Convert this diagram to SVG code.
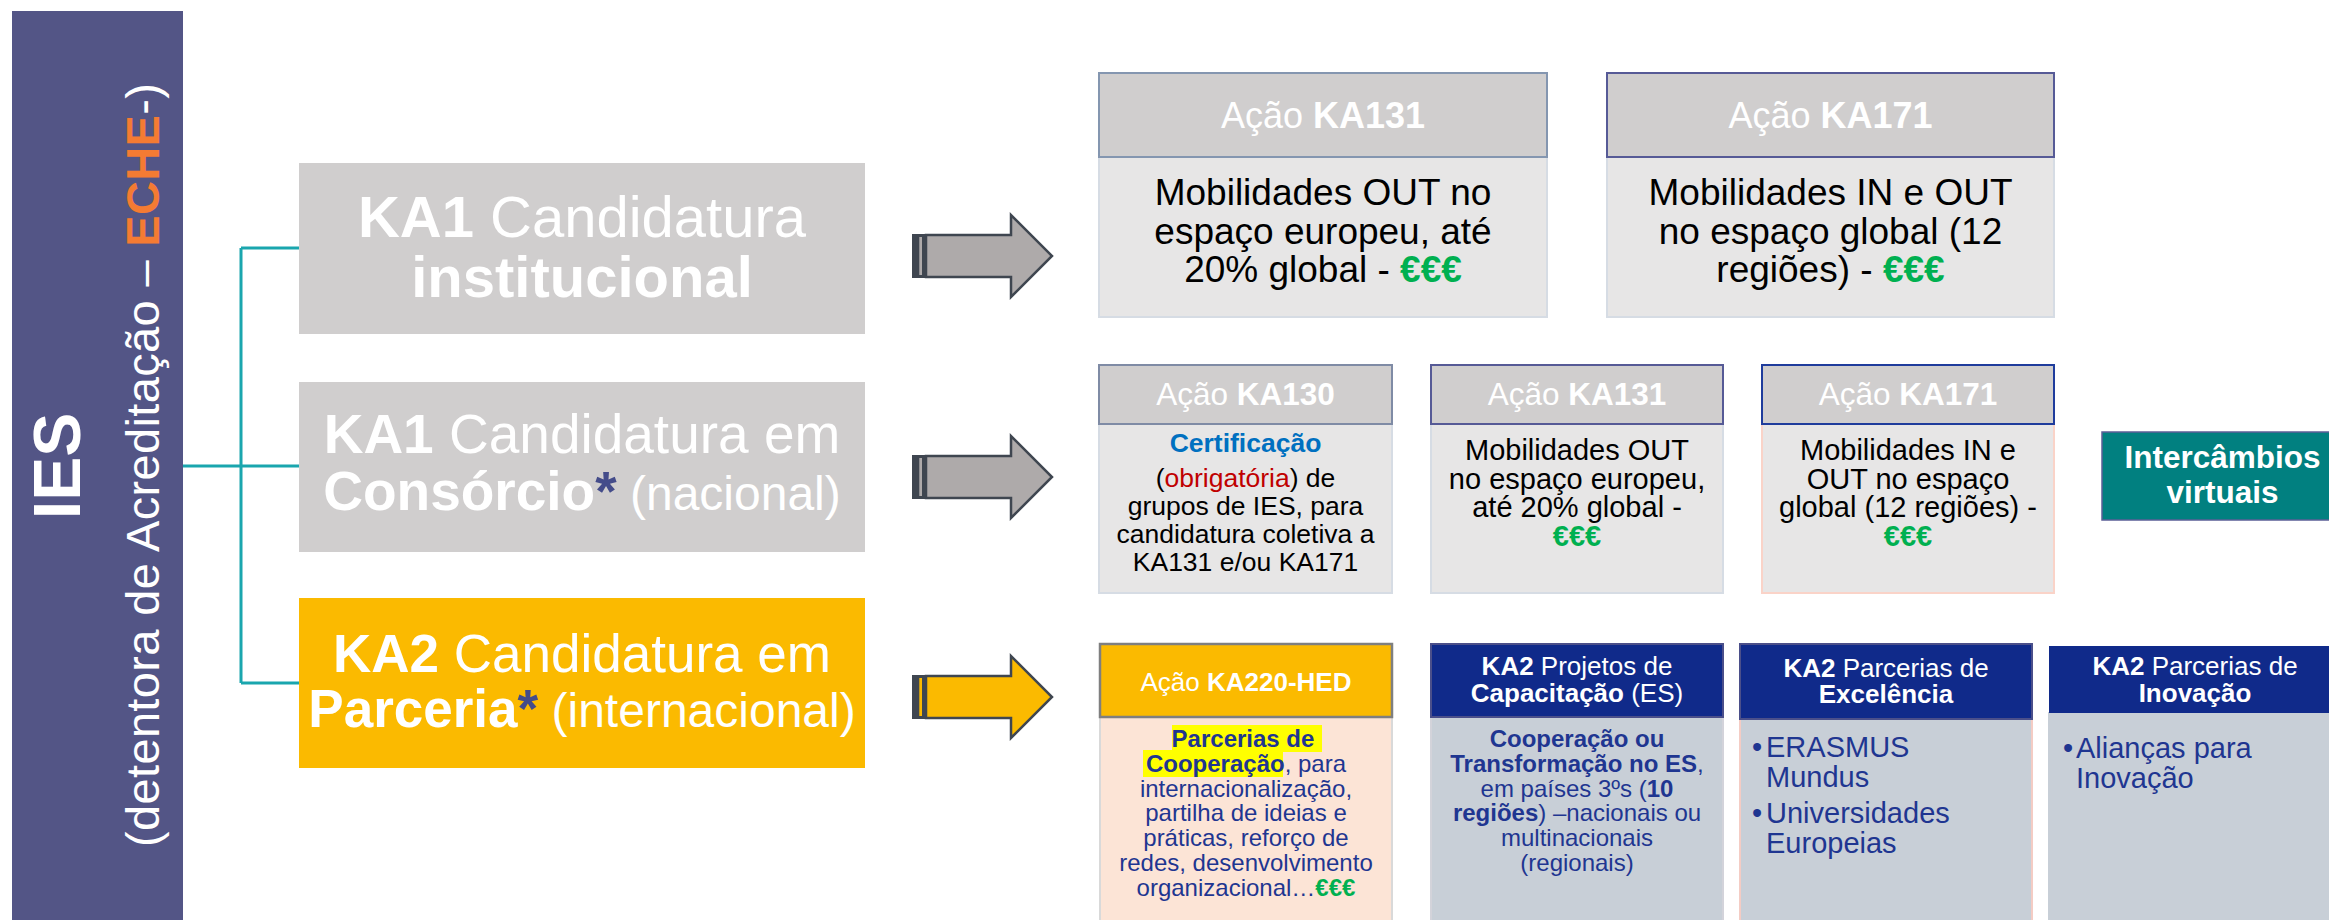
<svg xmlns="http://www.w3.org/2000/svg" width="2329" height="920" viewBox="0 0 2329 920">
<style>
text{font-family:"Liberation Sans",Arial,Helvetica,sans-serif}
.b{font-weight:bold}
.w{fill:#ffffff}
.k{fill:#000000}
.g{fill:#00B050;font-weight:bold}
.ast{fill:#444C8A;font-weight:bold}
.hdr{fill:#D0CECE;stroke-width:2}
.bg{fill:#E7E6E6;stroke:#D6DCE4;stroke-width:2}
.nv{fill:#102A8A;stroke:#4B4F8A;stroke-width:2}
.bb{fill:#C8CFD7;stroke-width:2}
.tn{fill:#1F3691}
.conn{stroke:#1AA6AE;stroke-width:3;fill:none}
.arr{stroke:#3F4650;stroke-width:2.5;stroke-linejoin:miter}
.band{fill:#3F4650}
</style>
<rect width="2329" height="920" fill="#ffffff"/>

<g id="ies">
<rect x="12" y="11" width="171" height="909" fill="#535586"/>
<text transform="translate(80,466) rotate(-90)" text-anchor="middle" font-size="66" class="b w">IES</text>
<text transform="translate(159,465) rotate(-90)" text-anchor="middle" font-size="47" class="w" textLength="764" lengthAdjust="spacing">(detentora de Acreditação – <tspan class="b" fill="#F47B33">ECHE</tspan>-)</text>
</g>

<g id="connectors">
<path class="conn" d="M241,248 V683 M241,248 H299 M183,466 H299 M241,683 H299"/>
<g id="arrow1">
<polygon class="arr" fill="#AEAAAA" points="926,235 1011,235 1011,215 1052,256 1011,297 1011,277 926,277"/>
<rect class="band" x="912" y="234" width="14" height="44"/>
<rect x="919.3" y="237" width="2.7" height="38" fill="#AEAAAA"/>
</g>
<g id="arrow2">
<polygon class="arr" fill="#AEAAAA" points="926,456 1011,456 1011,436 1052,477 1011,518 1011,498 926,498"/>
<rect class="band" x="912" y="455" width="14" height="44"/>
<rect x="919.3" y="458" width="2.7" height="38" fill="#AEAAAA"/>
</g>
<g id="arrow3">
<polygon class="arr" fill="#FBBA00" points="926,676 1011,676 1011,656 1052,697 1011,738 1011,718 926,718"/>
<rect class="band" x="912" y="675" width="14" height="44"/>
<rect x="919.3" y="678" width="2.7" height="38" fill="#FBBA00"/>
</g>
</g>

<g id="ka1-institucional">
<rect x="299" y="163" width="566" height="171" fill="#D0CECE"/>
<text x="582" y="237" text-anchor="middle" font-size="58" class="w"><tspan class="b">KA1</tspan> Candidatura</text>
<text x="582" y="297" text-anchor="middle" font-size="58" class="w b">institucional</text>
</g>

<g id="ka1-consorcio">
<rect x="299" y="382" width="566" height="170" fill="#D0CECE"/>
<text x="582" y="453" text-anchor="middle" font-size="55" class="w"><tspan class="b">KA1</tspan> Candidatura em</text>
<text x="582" y="510" text-anchor="middle" font-size="55" class="w"><tspan class="b">Consórcio</tspan><tspan class="ast">*</tspan><tspan font-size="48"> (nacional)</tspan></text>
</g>

<g id="ka2-parceria">
<rect x="299" y="598" width="566" height="170" fill="#FBBA00"/>
<text x="582" y="672" text-anchor="middle" font-size="53" class="w"><tspan class="b">KA2</tspan> Candidatura em</text>
<text x="582" y="727" text-anchor="middle" font-size="53" class="w"><tspan class="b">Parceria</tspan><tspan class="ast">*</tspan><tspan font-size="48"> (internacional)</tspan></text>
</g>

<g id="top-ka131">
<rect class="bg" x="1099" y="157" width="448" height="160"/>
<rect class="hdr" x="1099" y="73" width="448" height="84" stroke="#8496B0"/>
<text x="1323" y="128" text-anchor="middle" font-size="36" class="w">Ação <tspan class="b">KA131</tspan></text>
<text x="1323" y="205" text-anchor="middle" font-size="37" class="k">Mobilidades OUT no</text>
<text x="1323" y="243.5" text-anchor="middle" font-size="37" class="k">espaço europeu, até</text>
<text x="1323" y="282" text-anchor="middle" font-size="37" class="k">20% global - <tspan class="g">€€€</tspan></text>
</g>

<g id="top-ka171">
<rect class="bg" x="1607" y="157" width="447" height="160"/>
<rect class="hdr" x="1607" y="73" width="447" height="84" stroke="#565A96"/>
<text x="1830.5" y="128" text-anchor="middle" font-size="36" class="w">Ação <tspan class="b">KA171</tspan></text>
<text x="1830.5" y="205" text-anchor="middle" font-size="37" class="k">Mobilidades IN e OUT</text>
<text x="1830.5" y="243.5" text-anchor="middle" font-size="37" class="k">no espaço global (12</text>
<text x="1830.5" y="282" text-anchor="middle" font-size="37" class="k">regiões) - <tspan class="g">€€€</tspan></text>
</g>

<g id="mid-ka130">
<rect class="bg" x="1099" y="424" width="293" height="169"/>
<rect class="hdr" x="1099" y="365" width="293" height="59" stroke="#7F8BA5"/>
<text x="1245.5" y="405" text-anchor="middle" font-size="31.5" class="w">Ação <tspan class="b">KA130</tspan></text>
<text x="1245.5" y="452" text-anchor="middle" font-size="26.5" class="b" fill="#0070C0">Certificação</text>
<text x="1245.5" y="486.5" text-anchor="middle" font-size="26.5" class="k">(<tspan fill="#C00000">obrigatória</tspan>) de</text>
<text x="1245.5" y="515" text-anchor="middle" font-size="26.5" class="k">grupos de IES, para</text>
<text x="1245.5" y="543" text-anchor="middle" font-size="26.5" class="k">candidatura coletiva a</text>
<text x="1245.5" y="571" text-anchor="middle" font-size="26.5" class="k">KA131 e/ou KA171</text>
</g>

<g id="mid-ka131">
<rect class="bg" x="1431" y="424" width="292" height="169" stroke="#D9DCE8"/>
<rect class="hdr" x="1431" y="365" width="292" height="59" stroke="#565A96"/>
<text x="1577" y="405" text-anchor="middle" font-size="31.5" class="w">Ação <tspan class="b">KA131</tspan></text>
<text x="1577" y="460" text-anchor="middle" font-size="29" class="k">Mobilidades OUT</text>
<text x="1577" y="488.5" text-anchor="middle" font-size="29" class="k">no espaço europeu,</text>
<text x="1577" y="517" text-anchor="middle" font-size="29" class="k">até 20% global -</text>
<text x="1577" y="545.5" text-anchor="middle" font-size="29" class="g">€€€</text>
</g>

<g id="mid-ka171">
<rect x="1762" y="424" width="292" height="169" fill="#E7E6E6" stroke="#FAD3C8" stroke-width="2"/>
<rect class="hdr" x="1762" y="365" width="292" height="59" stroke="#1F3C9C"/>
<text x="1908" y="405" text-anchor="middle" font-size="31.5" class="w">Ação <tspan class="b">KA171</tspan></text>
<text x="1908" y="460" text-anchor="middle" font-size="29" class="k">Mobilidades IN e</text>
<text x="1908" y="488.5" text-anchor="middle" font-size="29" class="k">OUT no espaço</text>
<text x="1908" y="517" text-anchor="middle" font-size="29" class="k">global (12 regiões) -</text>
<text x="1908" y="545.5" text-anchor="middle" font-size="29" class="g">€€€</text>
</g>

<g id="intercambios">
<rect x="2102" y="432" width="250" height="88" fill="#018080" stroke="#5B5F97" stroke-width="1.5"/>
<text x="2222.5" y="468" text-anchor="middle" font-size="31.5" class="w b">Intercâmbios</text>
<text x="2222.5" y="503" text-anchor="middle" font-size="31.5" class="w b">virtuais</text>
</g>

<g id="bot-ka220">
<rect x="1100" y="717" width="292" height="210" fill="#FCE4D6" stroke="#D9D9D9" stroke-width="2"/>
<rect x="1100" y="644" width="292" height="73" fill="#FBBA00" stroke="#7F7F7F" stroke-width="2.5"/>
<text x="1246" y="691" text-anchor="middle" font-size="26" class="w">Ação <tspan class="b">KA220-HED</tspan></text>
<rect x="1172" y="725" width="150" height="27" fill="#FFFF00"/>
<rect x="1143" y="750" width="140" height="27" fill="#FFFF00"/>
<text x="1243" y="747" text-anchor="middle" font-size="24" class="tn b">Parcerias de</text>
<text x="1246" y="772" text-anchor="middle" font-size="24" class="tn"><tspan class="b">Cooperação</tspan>, para</text>
<text x="1246" y="797" text-anchor="middle" font-size="24" class="tn">internacionalização,</text>
<text x="1246" y="821" text-anchor="middle" font-size="24" class="tn">partilha de ideias e</text>
<text x="1246" y="846" text-anchor="middle" font-size="24" class="tn">práticas, reforço de</text>
<text x="1246" y="871" text-anchor="middle" font-size="24" class="tn">redes, desenvolvimento</text>
<text x="1246" y="896" text-anchor="middle" font-size="24" class="tn">organizacional…<tspan class="g">€€€</tspan></text>
</g>

<g id="bot-capacitacao">
<rect class="bb" x="1431" y="717" width="292" height="210" stroke="#D3D3DA"/>
<rect class="nv" x="1431" y="644" width="292" height="73"/>
<text x="1577" y="675" text-anchor="middle" font-size="26" class="w"><tspan class="b">KA2</tspan> Projetos de</text>
<text x="1577" y="702" text-anchor="middle" font-size="26" class="w"><tspan class="b">Capacitação</tspan> (ES)</text>
<text x="1577" y="747" text-anchor="middle" font-size="24" class="tn b">Cooperação ou</text>
<text x="1577" y="772" text-anchor="middle" font-size="24" class="tn"><tspan class="b">Transformação no ES</tspan>,</text>
<text x="1577" y="797" text-anchor="middle" font-size="24" class="tn">em países 3ºs (<tspan class="b">10</tspan></text>
<text x="1577" y="821" text-anchor="middle" font-size="24" class="tn"><tspan class="b">regiões</tspan>) –nacionais ou</text>
<text x="1577" y="846" text-anchor="middle" font-size="24" class="tn">multinacionais</text>
<text x="1577" y="871" text-anchor="middle" font-size="24" class="tn">(regionais)</text>
</g>

<g id="bot-excelencia">
<rect class="bb" x="1740" y="719" width="292" height="210" stroke="#F4CCC4"/>
<rect class="nv" x="1740" y="644" width="292" height="75"/>
<text x="1886" y="677" text-anchor="middle" font-size="26" class="w"><tspan class="b">KA2</tspan> Parcerias de</text>
<text x="1886" y="703" text-anchor="middle" font-size="26" class="w b">Excelência</text>
<text x="1752" y="757" font-size="29" class="tn">•</text>
<text x="1766" y="757" font-size="29" class="tn">ERASMUS</text>
<text x="1766" y="787" font-size="29" class="tn">Mundus</text>
<text x="1752" y="823" font-size="29" class="tn">•</text>
<text x="1766" y="823" font-size="29" class="tn">Universidades</text>
<text x="1766" y="853" font-size="29" class="tn">Europeias</text>
</g>

<g id="bot-inovacao">
<rect class="bb" x="2049" y="713" width="292" height="215" stroke="#C8CFD7"/>
<rect x="2049" y="646" width="292" height="67" fill="#102A8A"/>
<text x="2195" y="675" text-anchor="middle" font-size="26" class="w"><tspan class="b">KA2</tspan> Parcerias de</text>
<text x="2195" y="702" text-anchor="middle" font-size="26" class="w b">Inovação</text>
<text x="2063" y="758" font-size="29" class="tn">•</text>
<text x="2076" y="758" font-size="29" class="tn">Alianças para</text>
<text x="2076" y="788" font-size="29" class="tn">Inovação</text>
</g>
</svg>
